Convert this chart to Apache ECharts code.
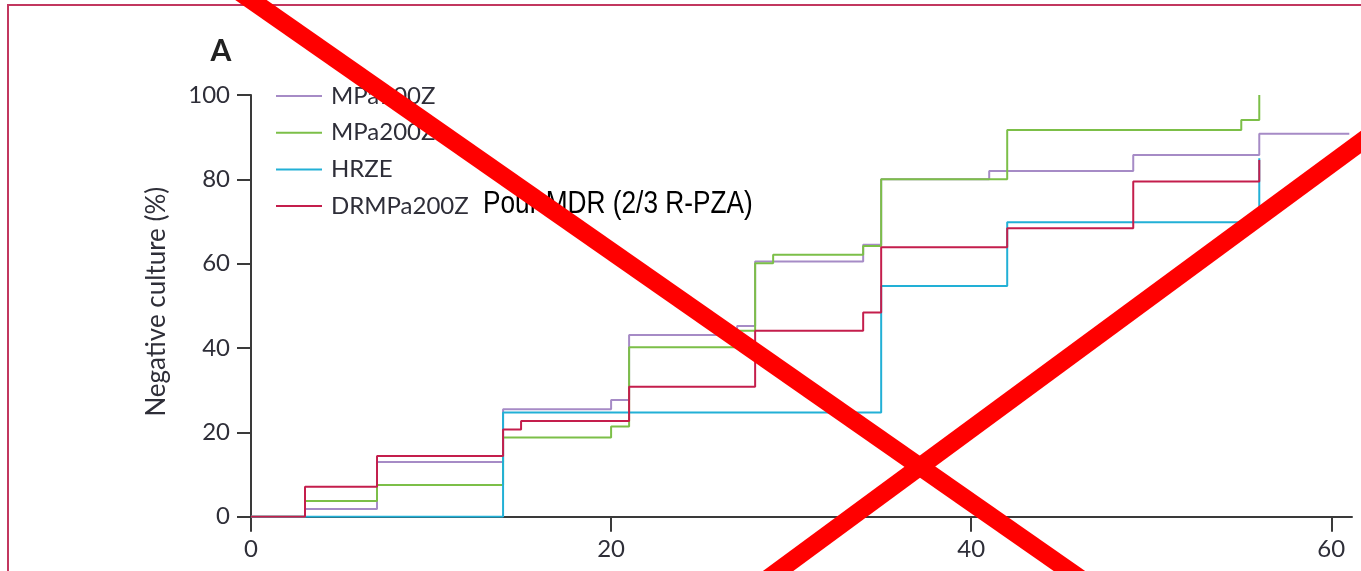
<!DOCTYPE html>
<html>
<head>
<meta charset="utf-8">
<script src="https://cdn.jsdelivr.net/npm/echarts@6/dist/echarts.min.js"></script>
<style>
html,body{margin:0;padding:0;background:#fff;}
#chart{width:1361px;height:571px;}
</style>
</head>
<body>
<div id="chart"></div>
<script>
// ---- data (days, % negative culture) ----
const seriesNames = ['MPa100Z', 'MPa200Z', 'HRZE', 'DRMPa200Z'];
const daysMPa100Z = [0, 3, 7, 14, 20, 21, 27, 28, 34, 35, 41, 49, 56, 61];
const valsMPa100Z = [0, 1.8, 13.0, 25.5, 27.7, 43.1, 45.2, 60.5, 64.5, 80.0, 82.0, 85.8, 90.8, 90.8];
const daysMPa200Z = [0, 3, 7, 14, 20, 21, 27, 28, 29, 34, 35, 42, 55, 56];
const valsMPa200Z = [0, 3.7, 7.5, 18.8, 21.4, 40.2, 44.1, 60.1, 62.1, 64.2, 80.0, 91.7, 94.1, 100];
const daysHRZE = [0, 14, 35, 42, 56];
const valsHRZE = [0, 24.7, 54.7, 69.8, 85.0];
const daysDRMPa200Z = [0, 3, 7, 14, 15, 21, 28, 34, 35, 42, 49, 56];
const valsDRMPa200Z = [0, 7.1, 14.4, 20.7, 22.7, 30.8, 44.1, 48.4, 63.9, 68.4, 79.5, 84.6];
const xTicks = [0, 20, 40, 60];
const yTicks = [0, 20, 40, 60, 80, 100];
const panelLabel = 'A';
const yAxisTitle = 'Negative culture (%)';
const noteText = 'Pour MDR (2/3 R-PZA)';

const colors = ['#a68bc6', '#7cbf48', '#22b0d6', '#c41e4c'];
const allDays = [daysMPa100Z, daysMPa200Z, daysHRZE, daysDRMPa200Z];
const allVals = [valsMPa100Z, valsMPa200Z, valsHRZE, valsDRMPa200Z];

const zip = (xs, ys) => xs.map((x, i) => [x, ys[i]]);
const axisColor = '#3a3a3a';
const textColor = '#2e2e38';
const labelFont = 'Lato';

const chart = echarts.init(document.getElementById('chart'), null, {renderer: 'canvas'});
chart.setOption({
  animation: false,
  backgroundColor: '#fff',
  grid: {left: 251, right: 9, top: 95, bottom: 54.3, containLabel: false},
  legend: {
    orient: 'vertical',
    left: 276,
    top: 84,
    padding: 0,
    icon: 'rect',
    itemWidth: 46,
    itemHeight: 2,
    itemGap: 12.7,
    textStyle: {fontFamily: labelFont, fontSize: 24, color: textColor, padding: [0, 0, 0, 4]},
    data: seriesNames
  },
  xAxis: {
    type: 'value',
    min: 0,
    max: 61.15,
    interval: 20,
    splitLine: {show: false},
    axisLine: {show: true, onZero: false, lineStyle: {color: axisColor, width: 2}},
    axisTick: {show: true, length: 15, customValues: xTicks, lineStyle: {color: axisColor, width: 2}},
    axisLabel: {customValues: xTicks, margin: 21, fontFamily: labelFont, fontSize: 24, color: textColor}
  },
  yAxis: {
    type: 'value',
    min: 0,
    max: 100,
    interval: 20,
    splitLine: {show: false},
    axisLine: {show: true, onZero: false, lineStyle: {color: axisColor, width: 2}},
    axisTick: {show: true, length: 14, customValues: yTicks, lineStyle: {color: axisColor, width: 2}},
    axisLabel: {customValues: yTicks, margin: 21, fontFamily: labelFont, fontSize: 24, color: textColor}
  },
  series: seriesNames.map((name, i) => ({
    name: name,
    type: 'line',
    step: 'end',
    symbol: 'none',
    color: colors[i],
    lineStyle: {width: 2, color: colors[i]},
    data: zip(allDays[i], allVals[i]),
    z: 3 + i
  })),
  graphic: [
    {type: 'rect', shape: {x: 8, y: 5, width: 1400, height: 700}, style: {fill: 'none', stroke: '#c2375f', lineWidth: 2}, z: 0, silent: true},
    {type: 'text', x: 221, y: 51, style: {text: panelLabel, font: 'bold 30px Lato', fill: '#222', align: 'center', verticalAlign: 'middle'}},
    {type: 'text', x: 156.5, y: 301.7, rotation: Math.PI / 2, style: {text: yAxisTitle, font: '26px Lato', fill: textColor, align: 'center', verticalAlign: 'middle'}},
    {type: 'text', x: 483, y: 204, scaleX: 0.82, style: {text: noteText, font: '32px "Liberation Sans"', fill: '#000', align: 'left', verticalAlign: 'middle'}, z: 50},
    {type: 'line', shape: {x1: 222.3, y1: -20, x2: 1111, y2: 600}, style: {stroke: '#ff0000', lineWidth: 18}, z: 100},
    {type: 'line', shape: {x1: 1400, y1: 113.3, x2: 738.7, y2: 600}, style: {stroke: '#ff0000', lineWidth: 18}, z: 100}
  ]
});
</script>
</body>
</html>
